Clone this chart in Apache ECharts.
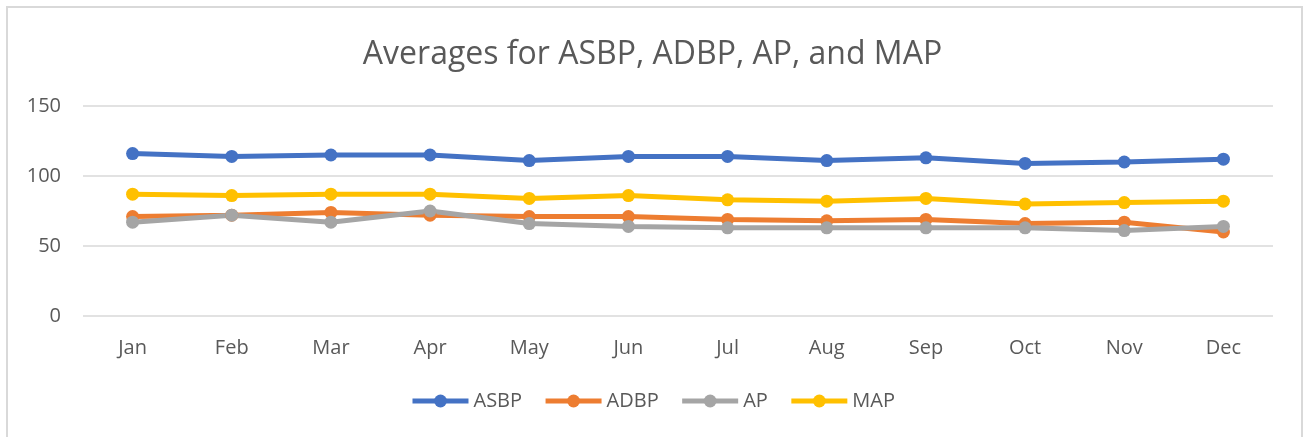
<!DOCTYPE html>
<html>
<head>
<meta charset="utf-8">
<script src="https://cdn.jsdelivr.net/npm/echarts@6/dist/echarts.min.js"></script>
<style>
html, body { margin: 0; padding: 0; background: #fff; }
#chart { width: 1305px; height: 437px; }
</style>
</head>
<body>
<div id="chart"></div>
<script>
// categories
const months = ['Jan', 'Feb', 'Mar', 'Apr', 'May', 'Jun', 'Jul', 'Aug', 'Sep', 'Oct', 'Nov', 'Dec'];
// series values
const asbp = [116, 114, 115, 115, 111, 114, 114, 111, 113, 109, 110, 112];
const adbp = [71, 72, 74, 72, 71, 71, 69, 68, 69, 66, 67, 60];
const ap = [67, 72, 67, 75, 66, 64, 63, 63, 63, 63, 61, 64];
const map = [87, 86, 87, 87, 84, 86, 83, 82, 84, 80, 81, 82];

const font = '"Open Sans", "Noto Sans", sans-serif';

function line(name, data, color) {
    return {
        name: name,
        type: 'line',
        data: data,
        symbol: 'circle',
        symbolSize: 13,
        lineStyle: { width: 5, color: color },
        itemStyle: { color: color },
        animation: false
    };
}

let myChart = echarts.init(document.getElementById('chart'));
myChart.setOption({
    backgroundColor: '#fff',
    graphic: [{
        type: 'rect',
        shape: { x: 7, y: 7, width: 1295, height: 440 },
        style: { fill: 'none', stroke: '#d9d9d9', lineWidth: 2 },
        silent: true
    }],
    title: {
        text: 'Averages for ASBP, ADBP, AP, and MAP',
        left: 'center',
        top: 34,
        textStyle: { fontFamily: font, fontSize: 32, fontWeight: 'normal', color: '#595959' }
    },
    legend: {
        bottom: 21,
        left: 'center',
        itemWidth: 56,
        itemHeight: 16,
        itemGap: 21,
        lineStyle: { width: 5 },
        textStyle: { fontFamily: font, fontSize: 20, color: '#595959' },
        data: ['ASBP', 'ADBP', 'AP', 'MAP']
    },
    grid: {
        left: 83,
        right: 32,
        top: 106,
        bottom: 121,
        containLabel: false
    },
    xAxis: {
        type: 'category',
        data: months,
        boundaryGap: true,
        axisLine: { show: false },
        axisTick: { show: false },
        axisLabel: { fontFamily: font, fontSize: 20, color: '#595959', margin: 22 }
    },
    yAxis: {
        type: 'value',
        min: 0,
        max: 150,
        interval: 50,
        axisLine: { show: false },
        axisTick: { show: false },
        axisLabel: { fontFamily: font, fontSize: 20, color: '#595959', margin: 22 },
        splitLine: { lineStyle: { color: '#d9d9d9', width: 1.5 } }
    },
    series: [
        line('ASBP', asbp, '#4472c4'),
        line('ADBP', adbp, '#ed7d31'),
        line('AP', ap, '#a5a5a5'),
        line('MAP', map, '#ffc000')
    ]
});
</script>
</body>
</html>
